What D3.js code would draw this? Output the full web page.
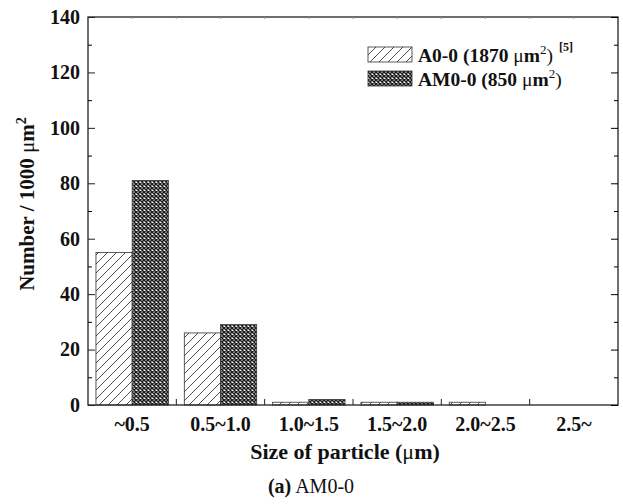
<!DOCTYPE html>
<html><head><meta charset="utf-8">
<script src="https://cdn.jsdelivr.net/npm/d3@7"></script>
<style>body{margin:0;background:#fff}svg{display:block}text{font-family:"Liberation Serif","Times New Roman",serif}</style>
</head><body>
<svg id="c" width="623" height="504"></svg>
<script>
const categories = ["~0.5","0.5~1.0","1.0~1.5","1.5~2.0","2.0~2.5","2.5~"];
const seriesNames = ["A0-0","AM0-0"];
const a00 = [55, 26, 1, 1, 1, 0];
const am00 = [81, 29, 2, 1, 0, 0];
const yTicks = [0,20,40,60,80,100,120,140];

const svg = d3.select("#c");
const W = 623, H = 504;
const m = {l:88, r:5, t:17, b:99};
const x = d3.scaleBand().domain(categories).range([m.l, W-m.r]).paddingInner(0).paddingOuter(0);
const y = d3.scaleLinear().domain([0,140]).range([H-m.b, m.t]);
const inner = d3.scaleBand().domain(seriesNames).range([0, x.bandwidth()]).paddingOuter(0.22).paddingInner(0);

const defs = svg.append("defs");
const p1 = defs.append("pattern").attr("id","hatch").attr("patternUnits","userSpaceOnUse").attr("width",9).attr("height",9);
p1.append("rect").attr("width",9).attr("height",9).attr("fill","#fff");
p1.append("path").attr("d","M-2,11 L11,-2 M-2,2 L2,-2 M7,11 L11,7").attr("stroke","#222").attr("stroke-width",0.8);
const p2 = defs.append("pattern").attr("id","cross").attr("patternUnits","userSpaceOnUse").attr("width",4).attr("height",4);
p2.append("rect").attr("width",4).attr("height",4).attr("fill","#fff");
p2.append("path").attr("d","M0,0 L4,4 M4,0 L0,4").attr("stroke","#1a1a1a").attr("stroke-width",1.5);

const data = [a00, am00];
const fills = ["url(#hatch)","url(#cross)"];
seriesNames.forEach((s,si)=>{
  svg.append("g").selectAll("rect").data(categories).join("rect")
    .attr("x", (c)=>x(c)+inner(s))
    .attr("width", inner.bandwidth())
    .attr("y", (c,i)=>y(data[si][i]))
    .attr("height", (c,i)=>y(0)-y(data[si][i]))
    .attr("fill", fills[si]).attr("stroke","#333").attr("stroke-width",0.8);
});

// frame
svg.append("rect").attr("x",m.l).attr("y",m.t).attr("width",W-m.r-m.l).attr("height",H-m.b-m.t)
  .attr("fill","none").attr("stroke","#222").attr("stroke-width",1.3);

// left axis
const yAx = d3.axisLeft(y).tickValues(yTicks).tickSize(-7).tickPadding(8);
const gl = svg.append("g").attr("transform",`translate(${m.l},0)`).call(yAx);
gl.select(".domain").remove();
gl.selectAll("text").attr("font-weight","bold").attr("font-size",20).attr("fill","#111").attr("font-family","Liberation Serif");
gl.selectAll("line").attr("stroke","#222");
const minor = d3.range(10,140,20);
svg.append("g").attr("transform",`translate(${m.l},0)`).call(d3.axisLeft(y).tickValues(minor).tickSize(-4).tickFormat(""))
  .call(g=>g.select(".domain").remove());
// right axis
svg.append("g").attr("transform",`translate(${W-m.r},0)`).call(d3.axisRight(y).tickValues(yTicks).tickSize(-7).tickFormat(""))
  .call(g=>g.select(".domain").remove());
svg.append("g").attr("transform",`translate(${W-m.r},0)`).call(d3.axisRight(y).tickValues(minor).tickSize(-4).tickFormat(""))
  .call(g=>g.select(".domain").remove());

// bottom axis
const xAx = d3.axisBottom(x).tickSize(0).tickPadding(12);
const gb = svg.append("g").attr("transform",`translate(0,${H-m.b})`).call(xAx);
gb.select(".domain").remove();
gb.selectAll("text").attr("font-weight","bold").attr("font-size",20).attr("fill","#111").attr("font-family","Liberation Serif");
const bounds = categories.slice(1).map(c=>x(c));
svg.append("g").selectAll("line").data(bounds).join("line")
  .attr("x1",d=>d).attr("x2",d=>d).attr("y1",H-m.b).attr("y2",H-m.b-6).attr("stroke","#222");
// top ticks (faint, half categories)
const topT = categories.map(c=>x(c)+x.bandwidth()/2).concat(bounds);
svg.append("g").selectAll("line").data(topT).join("line")
  .attr("x1",d=>d).attr("x2",d=>d).attr("y1",m.t).attr("y2",m.t+2).attr("stroke","#999");

// axis titles
svg.append("text").attr("x",345).attr("y",459).attr("text-anchor","middle")
  .attr("font-weight","bold").attr("font-size",22).attr("fill","#111")
  .html('Size of particle (<tspan font-weight="normal">μ</tspan>m)');
const yl = svg.append("text").attr("transform","translate(34,204) rotate(-90)").attr("text-anchor","middle")
  .attr("font-weight","bold").attr("font-size",21).attr("fill","#111");
yl.append("tspan").text("Number / 1000 ");
yl.append("tspan").attr("font-weight","normal").text("μ");
yl.append("tspan").text("m");
yl.append("tspan").attr("dy",-8).attr("font-size",14).text("2");

// caption
const cap = svg.append("text").attr("x",311).attr("y",493).attr("text-anchor","middle").attr("font-size",20).attr("fill","#111");
cap.append("tspan").attr("font-weight","bold").text("(a)");
cap.append("tspan").text(" AM0-0");

// legend
const legItems = [
  {name: seriesNames[0], area:"1870", ref:true},
  {name: seriesNames[1], area:"850", ref:false}
];
legItems.forEach((d,i)=>{
  const yy = 47 + i*24;
  svg.append("rect").attr("x",368).attr("y",yy).attr("width",44).attr("height",15)
    .attr("fill",fills[i]).attr("stroke","#333").attr("stroke-width",0.8);
  const t = svg.append("text").attr("x",418).attr("y",yy+15).attr("font-size",19.5).attr("font-weight","bold").attr("fill","#111");
  t.append("tspan").text(`${d.name} (${d.area} `);
  t.append("tspan").attr("font-weight","normal").text("μ");
  t.append("tspan").text("m");
  t.append("tspan").attr("dy",-8).attr("font-size",13).attr("font-weight","normal").text("2");
  t.append("tspan").attr("dy",8).attr("font-weight","normal").text(")");
  if (d.ref) t.append("tspan").attr("dx",6).attr("dy",-11).attr("font-size",12).text("[5]");
});
</script>
</body></html>
